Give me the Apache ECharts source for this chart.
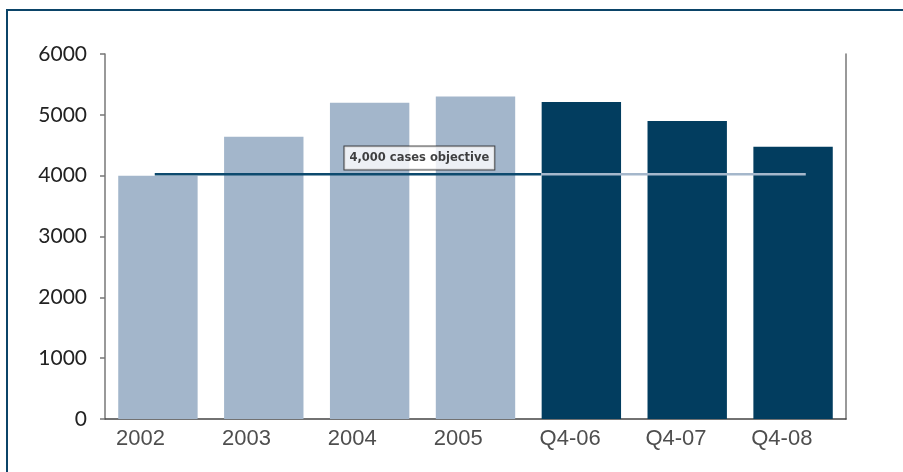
<!DOCTYPE html>
<html>
<head>
<meta charset="utf-8">
<script src="https://cdn.jsdelivr.net/npm/echarts@6/dist/echarts.min.js"></script>
<style>
  html, body { margin: 0; padding: 0; background: #ffffff; }
  #chart { width: 903px; height: 472px; }
</style>
</head>
<body>
<div id="chart"></div>
<script>
// Caseload by year / quarter
const categories = ['2002', '2003', '2004', '2005', 'Q4-06', 'Q4-07', 'Q4-08'];
const caseValues = [4000, 4640, 5200, 5300, 5210, 4900, 4475];
const isQuarter = [false, false, false, false, true, true, true];
const yTicks = { min: 0, max: 6000, interval: 1000 };

// Objective reference line, positioned along a continuous 0..7 category span
const objectiveValue = 4025;
const objectiveDarkSpan = [0.47, 4.12];
const objectiveLightSpan = [4.12, 6.62];
const objectiveLabel = '4,000 cases objective';
const objectiveLabelPos = [2.97, 4290];

const LIGHT_BAR = '#a3b6cb';
const DARK_BAR = '#023d5f';
const BAR_FRACTION = 0.75;

const chart = echarts.init(document.getElementById('chart'));

chart.setOption({
  animation: false,
  backgroundColor: '#ffffff',
  graphic: [{
    type: 'polyline',
    shape: { points: [[7, 472], [7, 10], [903, 10]] },
    style: { stroke: '#0b4468', lineWidth: 2, fill: null },
    silent: true
  }],
  grid: { left: 105, right: 57, top: 54, bottom: 53 },
  xAxis: [{
    type: 'category',
    data: categories,
    axisLine: { lineStyle: { color: '#444', width: 1.5 } },
    axisTick: { show: false },
    axisLabel: { show: false }
  }, {
    type: 'value',
    min: 0, max: 7,
    show: false
  }],
  yAxis: [{
    type: 'value',
    min: yTicks.min, max: yTicks.max, interval: yTicks.interval,
    axisLine: { show: true, lineStyle: { color: '#777', width: 1.5 } },
    axisTick: { show: true, inside: false, length: 5, lineStyle: { color: '#777', width: 1.5 } },
    splitLine: { show: false },
    axisLabel: {
      color: '#222', fontSize: 21, fontFamily: 'Lato', margin: 18,
      formatter: v => String(v)
    }
  }, {
    type: 'value',
    position: 'right',
    min: yTicks.min, max: yTicks.max, interval: yTicks.interval,
    axisLine: { show: true, lineStyle: { color: '#777', width: 1.5 } },
    axisTick: { show: false },
    axisLabel: { show: false },
    splitLine: { show: false }
  }],
  series: [{
    type: 'bar',
    barWidth: (BAR_FRACTION * 100) + '%',
    data: caseValues.map((v, i) => ({
      value: v,
      itemStyle: { color: isQuarter[i] ? DARK_BAR : LIGHT_BAR }
    })),
    z: 2
  }, {
    // category names, left-aligned with each bar's left edge
    type: 'scatter',
    xAxisIndex: 1,
    symbolSize: 0,
    clip: false,
    silent: true,
    data: categories.map((c, i) => ({ value: [i + 0.5 - BAR_FRACTION / 2 - 0.02, 0], name: c })),
    label: {
      show: true,
      position: 'bottom',
      distance: 9,
      align: 'left',
      formatter: p => p.name,
      color: '#222',
      fontSize: 22,
      fontFamily: 'Liberation Sans'
    },
    z: 4
  }, {
    type: 'line',
    xAxisIndex: 1,
    data: objectiveDarkSpan.map(x => [x, objectiveValue]),
    symbol: 'none',
    lineStyle: { color: '#0d4a6e', width: 2.5 },
    z: 3
  }, {
    type: 'line',
    xAxisIndex: 1,
    data: objectiveLightSpan.map(x => [x, objectiveValue]),
    symbol: 'none',
    lineStyle: { color: '#a5b7cb', width: 2.5 },
    z: 3
  }, {
    type: 'scatter',
    xAxisIndex: 1,
    symbolSize: 0,
    data: [objectiveLabelPos],
    label: {
      show: true,
      position: 'inside',
      formatter: objectiveLabel,
      color: '#111',
      fontSize: 11.5,
      fontWeight: 'bold',
      fontFamily: 'DejaVu Sans',
      backgroundColor: '#ffffff',
      borderColor: '#222',
      borderWidth: 1,
      padding: [6, 5, 5, 5]
    },
    z: 4
  }]
});
</script>
</body>
</html>
